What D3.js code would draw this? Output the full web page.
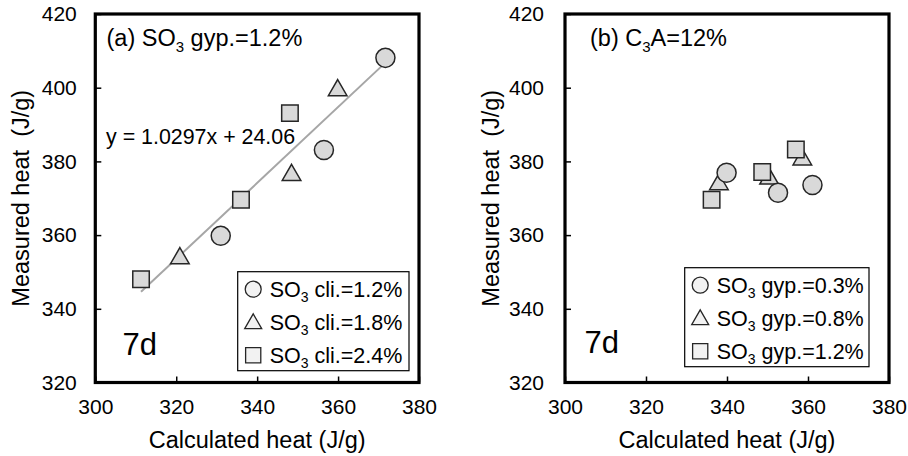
<!DOCTYPE html>
<html><head><meta charset="utf-8">
<script src="https://cdn.jsdelivr.net/npm/d3@7"></script>
<style>body{margin:0;background:#fff}svg{display:block;font-family:"Liberation Sans",Arial,sans-serif}</style>
</head><body><svg id="c" width="908" height="456"></svg>
<script>
const xTicks = [300, 320, 340, 360, 380];
const yTicks = [320, 340, 360, 380, 400, 420];
// Panel (a): SO3 gyp.=1.2%
const aCircle = [[331, 359.8], [356.5, 383.1], [371.7, 408.1]];
const aTriangle = [[320.9, 354.4], [348.5, 377], [359.9, 400]];
const aSquare = [[311.3, 348], [336, 369.6], [348.1, 393.1]];
const aLegend = ["cli.=1.2%", "cli.=1.8%", "cli.=2.4%"];
const fitSlope = 1.0297, fitIntercept = 24.06;
// Panel (b): C3A=12%
const bCircle = [[339.9, 376.9], [352.6, 371.5], [361.1, 373.6]];
const bTriangle = [[338, 374.5], [350.4, 376], [358.6, 381.2]];
const bSquare = [[336.2, 369.6], [348.7, 377.1], [357, 383.2]];
const bLegend = ["gyp.=0.3%", "gyp.=0.8%", "gyp.=1.2%"];

const svg = d3.select("#c");
const shapes = [d3.symbolCircle, d3.symbolTriangle, d3.symbolSquare];
const sizes = [285, 150, 272];
const lsizes = [200, 125, 230];
const drawOrder = [1, 0, 2]; // triangles beneath circles and squares

function panel(x0, x1, y0, y1, series, legendLabels, legendBox, titleParts, titleX, sevenX, sevenY, yTitleX, tickGap, fit) {
  const x = d3.scaleLinear().domain([300, 380]).range([x0, x1]);
  const y = d3.scaleLinear().domain([320, 420]).range([y1, y0]);
  const g = svg.append("g");
  const xa = g.append("g").attr("transform", `translate(0,${y1})`)
    .call(d3.axisBottom(x).tickValues(xTicks).tickSizeInner(-6).tickSizeOuter(0).tickPadding(25));
  const ya = g.append("g").attr("transform", `translate(${x0},0)`)
    .call(d3.axisLeft(y).tickValues(yTicks).tickSizeInner(-6).tickSizeOuter(0).tickPadding(tickGap));
  [xa, ya].forEach(a => {
    a.select(".domain").remove();
    a.selectAll("line").attr("stroke", "#000").attr("stroke-width", 1.5);
    a.selectAll("text").attr("font-size", 21).attr("fill", "#000").attr("font-family", "Liberation Sans, Arial, sans-serif");
  });
  xa.selectAll("text").attr("dy", "0.32em");
  g.append("rect").attr("x", x0).attr("y", y0).attr("width", x1 - x0).attr("height", y1 - y0)
    .attr("fill", "none").attr("stroke", "#000").attr("stroke-width", 3.2);
  if (fit) {
    const xs = d3.extent(series.flat(), d => d[0]);
    g.append("line").attr("x1", x(xs[0])).attr("y1", y(fitSlope * xs[0] + fitIntercept))
      .attr("x2", x(xs[1])).attr("y2", y(fitSlope * xs[1] + fitIntercept))
      .attr("stroke", "#a6a6a6").attr("stroke-width", 2);
  }
  drawOrder.forEach(i => {
    const off = i === 1 ? 2.6 : 0; // centre triangle's bounding box on the point
    g.selectAll(null).data(series[i]).enter().append("path")
      .attr("d", d3.symbol().type(shapes[i]).size(sizes[i]))
      .attr("transform", d => `translate(${x(d[0])},${y(d[1]) + off})`)
      .attr("fill", "#d9d9d9").attr("stroke", "#262626").attr("stroke-width", 1.5);
  });
  const [lx, ly, lw, lh] = legendBox;
  g.append("rect").attr("x", lx).attr("y", ly).attr("width", lw).attr("height", lh)
    .attr("fill", "#fff").attr("stroke", "#000").attr("stroke-width", 1.2);
  legendLabels.forEach((lab, i) => {
    const cy = ly + 17.5 + i * 33;
    g.append("path").attr("d", d3.symbol().type(shapes[i]).size(lsizes[i]))
      .attr("transform", `translate(${lx + 15.5},${cy + (i === 1 ? 1.5 : 0)})`)
      .attr("fill", "#f2f2f2").attr("stroke", "#262626").attr("stroke-width", 1.3);
    const t = g.append("text").attr("x", lx + 32).attr("y", cy + 7.5).attr("font-size", 21.5).attr("fill", "#000");
    t.append("tspan").text("SO");
    t.append("tspan").text("3").attr("font-size", 14).attr("dy", 5);
    t.append("tspan").text(" " + lab).attr("dy", -5);
  });
  const tt = g.append("text").attr("x", titleX).attr("y", y0 + 32).attr("font-size", 23.5).attr("fill", "#000");
  titleParts.forEach(p => {
    const ts = tt.append("tspan").text(p.t);
    if (p.sub) ts.attr("font-size", 15).attr("dy", 6);
    if (p.after) ts.attr("dy", -6);
  });
  g.append("text").attr("x", sevenX).attr("y", sevenY).attr("font-size", 31).attr("fill", "#000").text("7d");
  g.append("text").attr("x", (x0 + x1) / 2).attr("y", 448).attr("text-anchor", "middle")
    .attr("font-size", 23.5).attr("fill", "#000").text("Calculated heat (J/g)");
  g.append("text").attr("transform", `translate(${yTitleX},${(y0 + y1) / 2}) rotate(-90)`)
    .attr("text-anchor", "middle").attr("font-size", 23.5).attr("fill", "#000")
    .attr("xml:space", "preserve").style("white-space", "pre").text("Measured heat  (J/g)");
  return {x, y};
}

panel(95.3, 419, 14, 382.5, [aCircle, aTriangle, aSquare], aLegend, [237.7, 271.7, 171.3, 99],
  [{t: "(a) SO"}, {t: "3", sub: true}, {t: " gyp.=1.2%", after: true}], 106.5, 122.5, 355, 28.5, 18.5, true);
panel(565, 889, 14, 382.5, [bCircle, bTriangle, bSquare], bLegend, [684.7, 267.7, 184.3, 99],
  [{t: "(b) C"}, {t: "3", sub: true}, {t: "A=12%", after: true}], 590, 584.5, 352.5, 498.5, 21, false);
svg.append("text").attr("x", 106).attr("y", 144.3).attr("font-size", 21.4).attr("fill", "#000")
  .text("y = " + fitSlope + "x + " + fitIntercept.toFixed(2));
</script></body></html>
